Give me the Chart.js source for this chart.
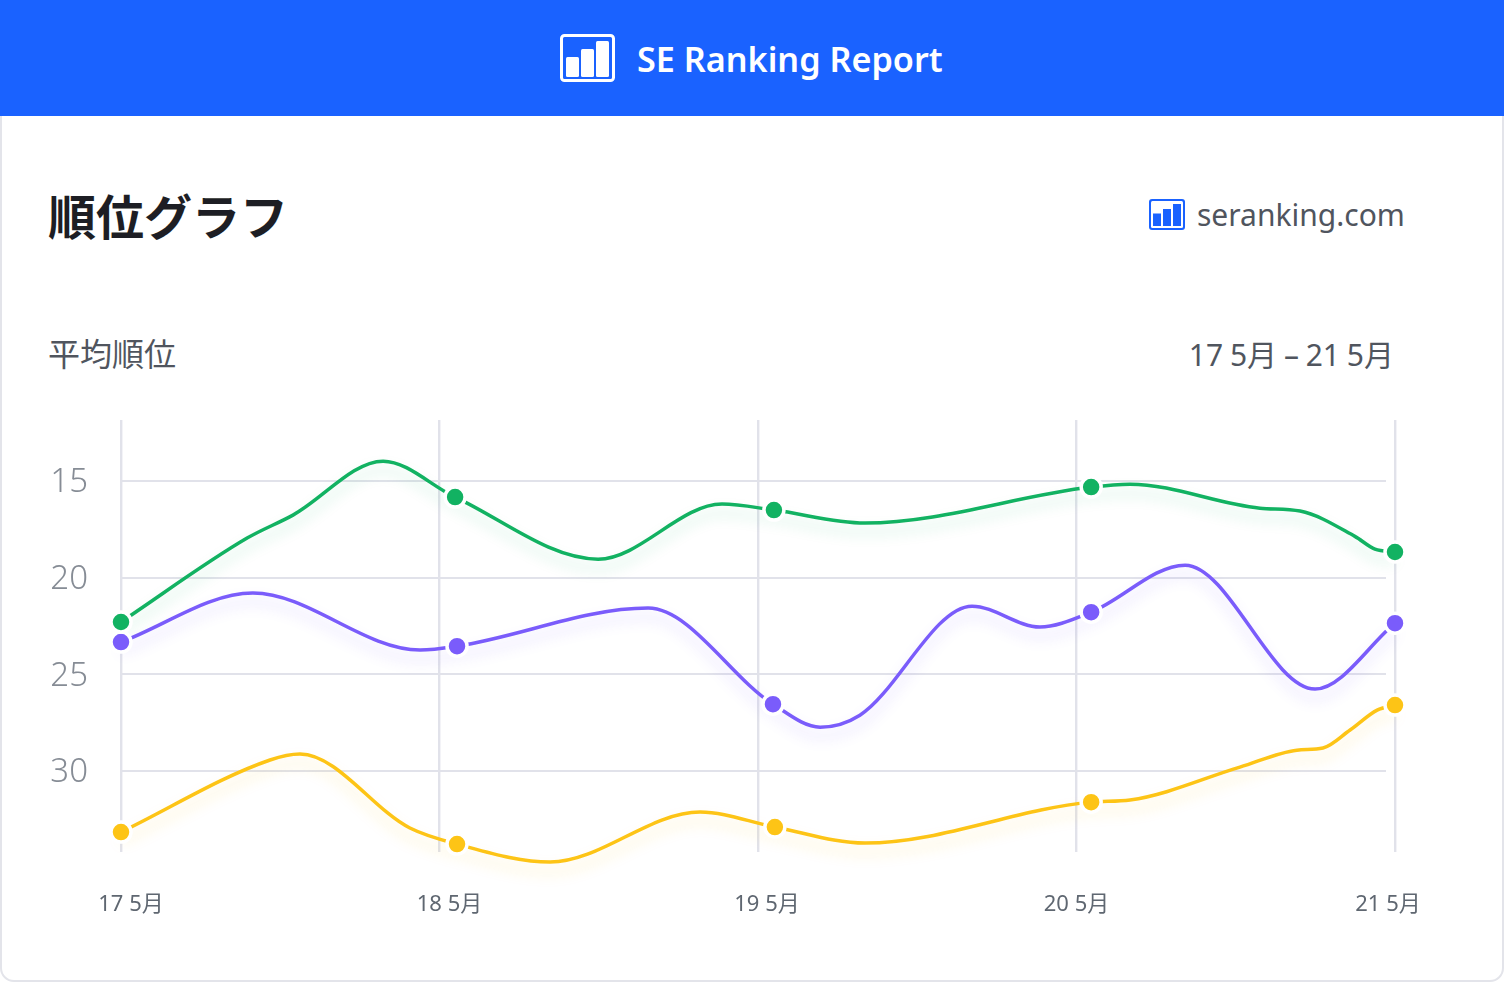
<!DOCTYPE html>
<html lang="ja">
<head>
<meta charset="utf-8">
<title>SE Ranking Report</title>
<script src="https://cdn.jsdelivr.net/npm/chart.js@4"></script>
<style>
html, body { margin: 0; padding: 0; background: #fff; }
body { width: 1504px; height: 982px; position: relative; overflow: hidden; font-family: "Noto Sans", "Noto Sans CJK JP", sans-serif; }
.card { position: absolute; left: 0; top: 100px; width: 1500px; height: 878px; border: 2px solid #e3e4ea; border-radius: 14px; }
.header { position: absolute; left: 0; top: 0; width: 1504px; height: 116px; background: #1a62ff; }
.header svg { position: absolute; left: 560px; top: 34px; }
.header span { position: absolute; left: 637px; top: 34px; font-size: 34.2px; line-height: 50px; font-weight: 600; color: #fff; white-space: nowrap; }
.txt { position: absolute; white-space: nowrap; }
#title { left: 48px; top: 179px; font-size: 48px; line-height: 70px; font-weight: 700; color: #1d1e24; font-family: "Noto Sans CJK JP", sans-serif; }
#site { left: 1197px; top: 193px; font-size: 30px; line-height: 44px; color: #50555e; }
#sub { left: 48px; top: 329px; font-size: 32px; line-height: 46px; color: #50555e; font-family: "Noto Sans CJK JP", sans-serif; }
#range { right: 110px; top: 332px; font-size: 30px; line-height: 46px; color: #50555e; word-spacing: -1px; }
#site-icon { position: absolute; left: 1149px; top: 199px; }
canvas { position: absolute; left: 0; top: 0; }
</style>
</head>
<body>
<div class="card"></div>
<div class="header">
  <svg width="56" height="48" viewBox="0 0 56 48">
    <rect x="1.5" y="1.5" width="52" height="45" rx="3" fill="none" stroke="#fff" stroke-width="3"/>
    <rect x="6" y="23" width="13" height="20" rx="1.5" fill="#fff"/>
    <rect x="21" y="15" width="13" height="28" rx="1.5" fill="#fff"/>
    <rect x="36" y="7" width="13" height="36" rx="1.5" fill="#fff"/>
  </svg>
  <span>SE Ranking Report</span>
</div>
<div class="txt" id="title">順位グラフ</div>
<svg id="site-icon" width="36" height="31" viewBox="0 0 36 31">
  <rect width="36" height="31" rx="3" fill="#1a62ff"/>
  <rect x="2" y="2" width="32" height="27" rx="1.5" fill="#fff"/>
  <rect x="4" y="14.5" width="8" height="12.5" fill="#1a62ff"/>
  <rect x="14" y="10" width="8" height="17" fill="#1a62ff"/>
  <rect x="24" y="5" width="8" height="22" fill="#1a62ff"/>
</svg>
<div class="txt" id="site">seranking.com</div>
<div class="txt" id="sub">平均順位</div>
<div class="txt" id="range">17 5月 – 21 5月</div>
<canvas id="chart" width="1504" height="982"></canvas>
<script>
const dayLabels = ["17 5月", "18 5月", "19 5月", "20 5月", "21 5月"];
const dayTicks = [0, 1, 2, 3, 4];
const rankTicks = [15, 20, 25, 30];

const greenDays = [0, 0.396, 0.54, 0.823, 1.049, 1.498, 1.887, 2.05, 2.336, 3.046, 3.168, 3.576, 3.702, 3.874, 3.937, 4];
const greenRanks = [22.29, 17.95, 16.76, 13.97, 15.83, 19.04, 16.19, 16.5, 17.17, 15.31, 15.16, 16.4, 16.55, 17.86, 18.52, 18.67];
const greenMarkers = [0, 4, 7, 9, 15];

const purpleDays = [0, 0.414, 0.939, 1.055, 1.655, 2.047, 2.195, 2.32, 2.672, 2.885, 3.046, 3.341, 3.749, 4];
const purpleRanks = [23.33, 20.79, 23.74, 23.54, 21.57, 26.54, 27.73, 27.11, 21.47, 22.55, 21.78, 19.35, 25.76, 22.35];
const purpleMarkers = [0, 3, 5, 10, 13];

const yellowDays = [0, 0.468, 0.562, 0.907, 1.055, 1.347, 1.818, 2.053, 2.336, 3.046, 3.168, 3.513, 3.692, 3.774, 3.859, 3.944, 4];
const yellowRanks = [33.16, 29.43, 29.12, 32.95, 33.78, 34.71, 32.12, 32.9, 33.73, 31.61, 31.5, 29.8, 28.92, 28.81, 27.88, 26.85, 26.59];
const yellowMarkers = [0, 4, 7, 9, 16];

// x labels in the reference sit a little off their grid lines
const labelShift = [10, 10, 9, 0, -7];

const FONT = '"Noto Sans", "Noto Sans CJK JP", sans-serif';
const GRID = "#e1e2ea";

function toPoints(xs, ys) {
    return xs.map((x, i) => ({ x: x, y: ys[i] }));
}

function curve(xs, ys, color, shadow) {
    return {
        data: toPoints(xs, ys),
        borderColor: color,
        borderWidth: 3.5,
        cubicInterpolationMode: "monotone",
        pointRadius: 0,
        clip: false,
        order: 2,
        glow: shadow
    };
}

function markers(xs, ys, idx, color) {
    return {
        data: idx.map(i => ({ x: xs[i], y: ys[i] })),
        showLine: false,
        pointRadius: 10,
        pointBorderWidth: 3.5,
        pointBackgroundColor: color,
        pointBorderColor: "#fff",
        clip: false,
        order: 1
    };
}

// soft coloured shadow under each line
const glowPlugin = {
    id: "glow",
    beforeDatasetDraw(chart, args) {
        const glow = chart.data.datasets[args.index].glow;
        if (!glow) return;
        const ctx = chart.ctx;
        ctx.save();
        ctx.shadowColor = glow;
        ctx.shadowBlur = 14;
        ctx.shadowOffsetY = 9;
    },
    afterDatasetDraw(chart, args) {
        if (chart.data.datasets[args.index].glow) chart.ctx.restore();
    }
};

// horizontal grid lines stop short of the last vertical one
const rankGridPlugin = {
    id: "rankGrid",
    beforeDatasetsDraw(chart) {
        const ctx = chart.ctx;
        const y = chart.scales.y;
        ctx.save();
        ctx.strokeStyle = GRID;
        ctx.lineWidth = 2;
        rankTicks.forEach(t => {
            const py = Math.round(y.getPixelForValue(t));
            ctx.beginPath();
            ctx.moveTo(chart.chartArea.left, py);
            ctx.lineTo(chart.chartArea.right - 9, py);
            ctx.stroke();
        });
        ctx.restore();
    }
};

const labelShiftPlugin = {
    id: "labelShift",
    beforeDraw(chart) {
        const x = chart.scales.x;
        const y = chart.scales.y;
        if (x.$shifted) return;
        x.getLabelItems().forEach((item, i) => {
            item.options.translation[0] += labelShift[i];
        });
        y.getLabelItems().forEach(item => {
            item.options.translation[1] += 2;
        });
        x.$shifted = true;
    }
};

new Chart(document.getElementById("chart"), {
    type: "line",
    data: {
        datasets: [
            curve(greenDays, greenRanks, "#12b262", "rgba(18,178,98,0.22)"),
            curve(purpleDays, purpleRanks, "#7a5cfb", "rgba(122,92,251,0.24)"),
            curve(yellowDays, yellowRanks, "#fdc416", "rgba(253,196,22,0.26)"),
            markers(greenDays, greenRanks, greenMarkers, "#12b262"),
            markers(purpleDays, purpleRanks, purpleMarkers, "#7a5cfb"),
            markers(yellowDays, yellowRanks, yellowMarkers, "#fdc416")
        ]
    },
    options: {
        responsive: false,
        animation: false,
        events: [],
        layout: { padding: { left: 0, right: 109, top: 420, bottom: 0 } },
        plugins: { legend: { display: false }, tooltip: { enabled: false } },
        scales: {
            x: {
                type: "linear",
                min: 0,
                max: 4,
                afterBuildTicks: s => { s.ticks = dayTicks.map(v => ({ value: v })); },
                afterFit: s => { s.height = 130; },
                grid: { color: GRID, lineWidth: 2.4, drawTicks: false },
                border: { display: false },
                ticks: {
                    padding: 40,
                    maxRotation: 0,
                    autoSkip: false,
                    color: "#5f6771",
                    font: { family: FONT, size: 22 },
                    callback: v => dayLabels[v]
                }
            },
            y: {
                type: "linear",
                reverse: true,
                min: 11.84,
                max: 34.19,
                afterBuildTicks: s => { s.ticks = rankTicks.map(v => ({ value: v })); },
                afterFit: s => { s.width = 121; },
                grid: { display: false },
                border: { display: false },
                ticks: {
                    padding: 25,
                    autoSkip: false,
                    color: "#868c95",
                    font: { family: FONT, size: 33, weight: "300" }
                }
            }
        }
    },
    plugins: [glowPlugin, rankGridPlugin, labelShiftPlugin]
});
</script>
</body>
</html>
